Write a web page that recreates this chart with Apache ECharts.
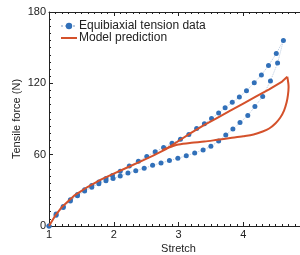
<!DOCTYPE html>
<html><head><meta charset="utf-8">
<script src="https://cdn.jsdelivr.net/npm/echarts@6/dist/echarts.min.js"></script>
<style>html,body{margin:0;padding:0;background:#fff}#c{width:300px;height:255px}</style>
</head><body><div id="c"></div>
<script>
const xTicks = [1, 2, 3, 4, 5];
const yTicks = [0, 60, 120, 180];
const loadingData = [[1.0,0],[1.11,10],[1.22,16.5],[1.33,22],[1.44,26.5],[1.55,30.5],[1.66,34],[1.77,37],[1.88,40],[1.98,42.5],[2.1,46],[2.24,50.5],[2.38,54.5],[2.51,58.5],[2.64,62.5],[2.77,66],[2.9,69.5],[3.03,73],[3.16,77],[3.28,82],[3.4,86],[3.51,90.5],[3.62,95],[3.72,99.5],[3.83,104],[3.94,108.5],[4.05,113.8],[4.17,120.5],[4.28,127],[4.39,135],[4.51,145],[4.62,156]];
const unloadingData = [[1.0,0],[1.11,9],[1.22,15.5],[1.33,21],[1.44,25.5],[1.55,29.5],[1.66,32.5],[1.77,35.5],[1.88,38],[1.99,40],[2.1,42],[2.22,44.5],[2.34,46.5],[2.47,48.5],[2.6,51],[2.73,53],[2.86,55],[2.99,57],[3.12,59],[3.25,61.5],[3.38,64],[3.5,67],[3.62,71.5],[3.73,76.5],[3.84,81.5],[3.95,87],[4.07,93],[4.18,100.5],[4.3,109],[4.42,122],[4.53,137]];
const modelLoading = [[1,0],[1.1,9],[1.2,16],[1.4,26],[1.6,33],[1.8,39],[2.0,44],[2.2,49],[2.4,54],[2.6,59],[2.8,64.5],[3.0,71.5],[3.2,78.5],[3.4,85],[3.6,91],[3.8,97],[4.0,103],[4.2,109],[4.4,115],[4.6,121.5],[4.68,125.5]];
const modelUnloading = [[4.68,125.5],[4.70,117],[4.69,110],[4.67,104],[4.63,97],[4.57,91],[4.5,86.5],[4.4,82],[4.3,79.5],[4.16,77],[4.0,75.5],[3.8,74],[3.6,72.5],[3.4,71],[3.2,70],[3.0,68.5],[2.85,66],[2.75,64]];

const dataSeries = loadingData.concat(unloadingData.slice().reverse());
const chart = echarts.init(document.getElementById('c'), null, {renderer:'canvas'});
const font = 'Liberation Sans, Arial, sans-serif';
const axisCol = '#222';
chart.setOption({
  animation:false,
  textStyle:{fontFamily:font},
  grid:{left:49, top:12, width:259, height:214, containLabel:false, outerBoundsMode:'none'},
  legend:{
    left:55, top:15, orient:'vertical', itemGap:0, itemWidth:16, itemHeight:8,
    textStyle:{fontSize:12, color:'#222', fontFamily:font, padding:[0,0,0,-3]},
    data:[{name:'Equibiaxial tension data'},{name:'Model prediction', itemStyle:{opacity:0}}]
  },
  xAxis:[{
    type:'value', min:xTicks[0], max:xTicks[xTicks.length-1], interval:1,
    name:'Stretch', nameLocation:'middle', nameGap:17, nameMoveOverlap:false,
    nameTextStyle:{fontSize:11, color:'#222'},
    axisLine:{lineStyle:{color:axisCol, width:1}},
    axisTick:{inside:true, length:4, lineStyle:{color:axisCol}},
    minorTick:{show:true, splitNumber:10, length:2, lineStyle:{color:axisCol}},
    axisLabel:{fontSize:11, color:'#222', margin:3, formatter: v => (v < 5 ? String(v) : '')},
    splitLine:{show:false}
  },{
    type:'value', position:'top', min:1, max:5, interval:1,
    axisLine:{show:true, lineStyle:{color:axisCol, width:1}},
    axisTick:{inside:true, length:4, lineStyle:{color:axisCol}},
    minorTick:{show:true, splitNumber:10, length:2, lineStyle:{color:axisCol}},
    axisLabel:{show:false}, splitLine:{show:false}
  }],
  yAxis:{
    type:'value', min:yTicks[0], max:yTicks[yTicks.length-1], interval:60,
    name:'Tensile force (N)', nameLocation:'middle', nameGap:27, nameMoveOverlap:false,
    nameTextStyle:{fontSize:11, color:'#222'},
    axisLine:{show:true, lineStyle:{color:axisCol, width:1}},
    axisTick:{show:true, inside:true, length:4, lineStyle:{color:axisCol}},
    minorTick:{show:true, splitNumber:10, length:2, lineStyle:{color:axisCol}},
    axisLabel:{fontSize:11, color:'#222', margin:3},
    splitLine:{show:false}
  },
  series:[
    {name:'Equibiaxial tension data', type:'line', data:dataSeries,
     symbol:'circle', symbolSize:5, showSymbol:true,
     itemStyle:{color:'#3170b9'},
     lineStyle:{color:'#b9c9de', width:1, type:'dotted'}, z:2},
    {name:'Model prediction', type:'line', data:modelLoading, symbol:'none',
     itemStyle:{color:'#d4512b'}, lineStyle:{color:'#d4512b', width:2}, z:3},
    {name:'Model prediction', type:'line', data:modelUnloading, symbol:'none', smooth:0.3,
     itemStyle:{color:'#d4512b'}, lineStyle:{color:'#d4512b', width:2}, z:3}
  ]
});
</script></body></html>
